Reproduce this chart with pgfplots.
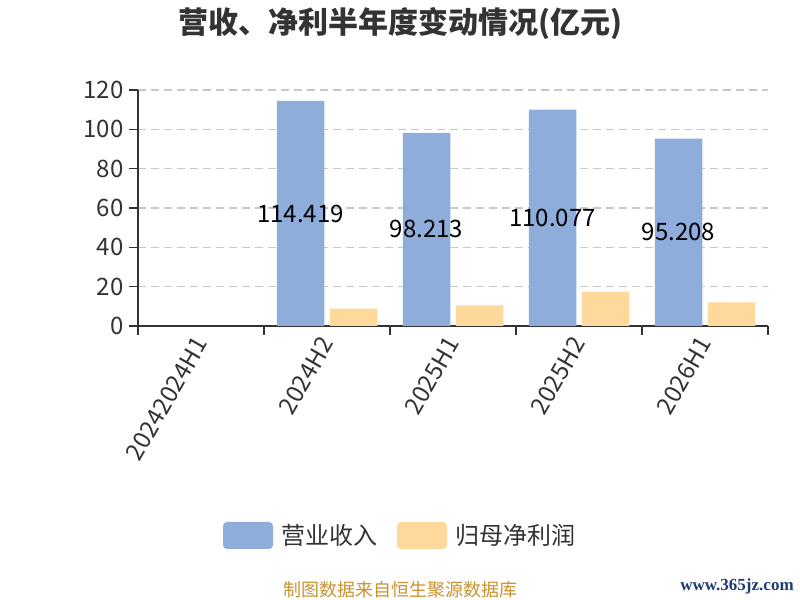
\documentclass[border=0pt]{standalone}
\usepackage{fontspec}
\setmainfont{Noto Sans CJK SC}
\newfontfamily\webfont{Liberation Serif}
\usepackage{pgfplots}
\pgfplotsset{compat=1.18}
\definecolor{cblue}{HTML}{8EADDB}
\definecolor{corange}{HTML}{FFD99B}
\definecolor{ctext}{HTML}{333333}
\definecolor{cgrid}{HTML}{C8C8C8}
\definecolor{cfoot}{HTML}{C9922E}
\definecolor{cweb}{HTML}{1F3B73}
\begin{document}
\begin{tikzpicture}[x=1bp,y=1bp]
\path[use as bounding box] (0,0) rectangle (800,600);
\node[font=\fontsize{30bp}{36bp}\selectfont\bfseries, text=ctext] at (400,576) {营收、净利半年度变动情况(亿元)};
\begin{axis}[
  at={(138bp,274bp)}, anchor=south west,
  scale only axis, width=630bp, height=236bp,
  xmin=-0.5, xmax=4.5, ymin=0, ymax=120,
  ybar=5.5bp, bar width=47.5bp,
  axis x line*=bottom, axis y line*=left,
  axis line style={draw=ctext, line width=1.5bp},
  /pgf/number format/assume math mode=true,
  tick label style={font=\fontsize{24bp}{28bp}\selectfont, text=ctext},
  tick align=outside, major tick length=9bp,
  ytick={0,20,...,120},
  ytick style={draw=ctext, line width=1.5bp},
  yticklabel style={xshift=-2bp},
  ymajorgrids, grid style={draw=cgrid, line width=1.4bp, dash pattern=on 8bp off 5bp},
  xtick={0,1,2,3,4},
  xticklabels={20242024H1,2024H2,2025H1,2025H2,2026H1},
  xtick style={draw=none},
  xticklabel style={rotate=60, anchor=east, yshift=-2bp},
  extra x ticks={-0.5,0.5,1.5,2.5,3.5,4.5},
  extra x tick labels={},
  extra x tick style={grid=none, xtick style={draw=ctext, line width=1.5bp}},
  point meta=explicit symbolic,
  visualization depends on={y \as \rawy},
  legend style={at={(axis description cs:0.4159,-0.8877)}, anchor=center,
    draw=none, fill=none, font=\fontsize{24bp}{28bp}\selectfont, text=ctext,
    legend columns=2,
    /tikz/every odd column/.append style={column sep=6bp},
    /tikz/every even column/.append style={column sep=18bp}},
  legend cell align=left,
  legend image code/.code={\fill[#1, rounded corners=4bp] (0bp,-13.5bp) rectangle (50bp,13.5bp);},
]
\addplot[fill=cblue, draw=none,
  nodes near coords,
  every node near coord/.append style={font=\fontsize{24bp}{28bp}\selectfont, text=black, anchor=center, yshift={-\rawy*0.98333bp}}]
  coordinates {(1,114.419) [114.419] (2,98.213) [98.213] (3,110.077) [110.077] (4,95.208) [95.208]};
\addlegendentry{营业收入}
\addplot[fill=corange, draw=none]
  coordinates {(1,8.85) (2,10.5) (3,17.5) (4,12.0)};
\addlegendentry{归母净利润}
\end{axis}
\node[font=\fontsize{18bp}{22bp}\selectfont, text=cfoot] at (400,10) {制图数据来自恒生聚源数据库};
\node[font=\webfont\bfseries\fontsize{17bp}{20bp}\selectfont, text=cweb] at (737,14) {www.365jz.com};
\end{tikzpicture}
\end{document}
